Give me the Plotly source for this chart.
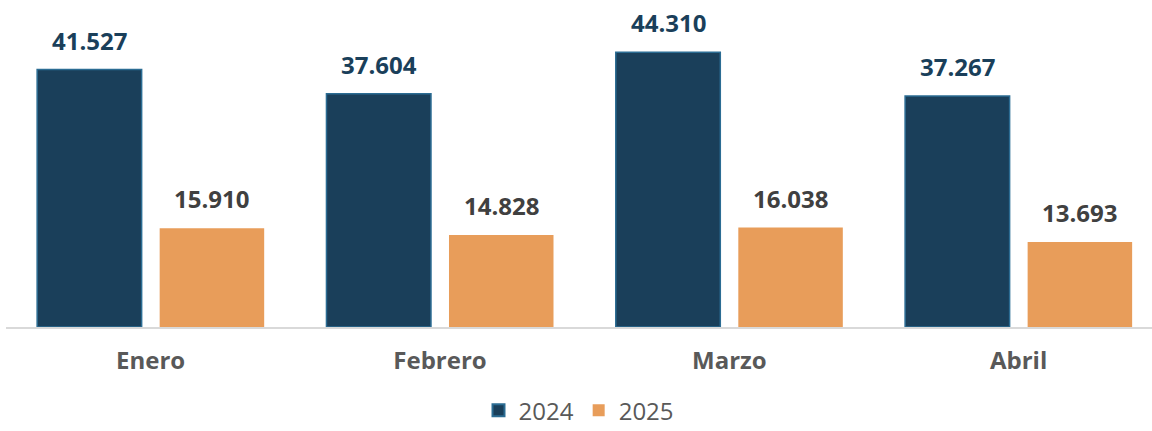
import plotly.graph_objects as go

months = ["Enero", "Febrero", "Marzo", "Abril"]
series_names = ["2024", "2025"]
values_2024 = [41527, 37604, 44310, 37267]
values_2025 = [15910, 14828, 16038, 13693]

def fmt(v):
    return f"{v:,}".replace(",", ".")

dark = "#1A3F5A"
orange = "#E89D5A"

fig = go.Figure()
fig.add_trace(go.Bar(name=series_names[0], x=months, y=values_2024,
                     marker=dict(color=dark, line=dict(color="#2B6C93", width=1.5))))
fig.add_trace(go.Bar(name=series_names[1], x=months, y=values_2025,
                     marker=dict(color=orange, line=dict(color=orange, width=0))))

bargap = 0.153
bargroupgap = 0.147
slot = (1 - bargap) / 2
annotations = []
for i, (a, b) in enumerate(zip(values_2024, values_2025)):
    annotations.append(dict(x=i - slot / 2, y=a, xref="x", yref="y", text=f"<b>{fmt(a)}</b>",
                            showarrow=False, yanchor="bottom", yshift=11,
                            font=dict(family="Open Sans", size=24, color=dark)))
    annotations.append(dict(x=i + slot / 2, y=b, xref="x", yref="y", text=f"<b>{fmt(b)}</b>",
                            showarrow=False, yanchor="bottom", yshift=11,
                            font=dict(family="Open Sans", size=24, color="#404040")))

fig.update_layout(
    width=1152, height=431,
    margin=dict(l=6, r=0, t=17, b=104, autoexpand=False),
    paper_bgcolor="white", plot_bgcolor="white",
    barmode="group", bargap=bargap, bargroupgap=bargroupgap,
    showlegend=True,
    legend=dict(orientation="h", x=0.5, xanchor="center", y=-0.27, yanchor="middle",
                font=dict(family="Open Sans", size=24, color="#595959"),
                itemsizing="constant", borderwidth=0),
    annotations=annotations,
    xaxis=dict(range=[-0.5, 3.461], showline=True, linecolor="#D9D9D9", linewidth=2,
               ticks="outside", ticklen=11, tickcolor="rgba(0,0,0,0)",
               tickfont=dict(family="Open Sans", size=24, color="#595959"),
               tickprefix="<b>", ticksuffix="</b>", showgrid=False, zeroline=False),
    yaxis=dict(range=[0, 50000], visible=False, showgrid=False, zeroline=False),
    font=dict(family="Open Sans"),
)
fig.write_html("out.html")
